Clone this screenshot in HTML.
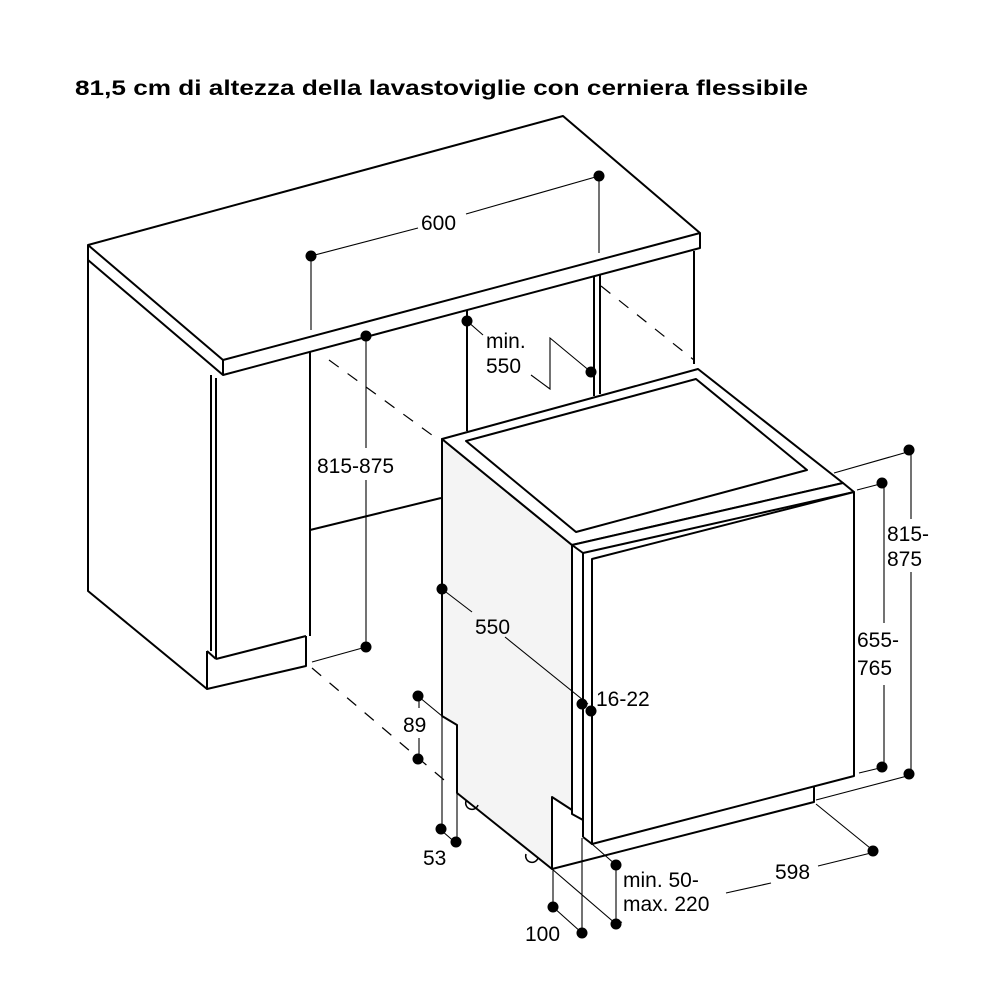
<!DOCTYPE html>
<html><head><meta charset="utf-8"><style>
html,body{margin:0;padding:0;background:#fff;}
svg{display:block;}
text{font-family:"Liberation Sans",Arial,sans-serif;fill:#000;}
</style></head><body>
<svg width="1000" height="1000" viewBox="0 0 1000 1000" xmlns="http://www.w3.org/2000/svg">
<rect width="1000" height="1000" fill="#fff"/>
<text x="75" y="95" font-size="21" font-weight="bold" textLength="733" lengthAdjust="spacingAndGlyphs">81,5 cm di altezza della lavastoviglie con cerniera flessibile</text>

<g fill="none" stroke="#000" stroke-width="2" stroke-linejoin="round">
<polygon points="88,245 563,116 700,233 223,360" fill="#fff"/>
<polyline points="88,245 88,260 223,375 700,248 700,233"/>
<line x1="223" y1="360" x2="223" y2="375"/>
<polyline points="88,260 88,591 207,689"/>
<line x1="211" y1="375" x2="211" y2="651"/>
<line x1="216" y1="378" x2="216" y2="659"/>
<polyline points="207,651 207,689 306,666 306,636"/>
<line x1="216" y1="659" x2="306" y2="636"/>
<line x1="207" y1="651" x2="216" y2="659"/>
<line x1="310" y1="352" x2="310" y2="636"/>
<line x1="310" y1="530" x2="441" y2="498"/>
<line x1="467" y1="310" x2="467" y2="431"/>
<line x1="594" y1="276" x2="594" y2="396"/>
<line x1="600" y1="275" x2="600" y2="394"/>
<line x1="694" y1="251" x2="694" y2="364"/>
</g>

<g fill="none" stroke="#000" stroke-width="2" stroke-linejoin="round">
<polygon points="442,439 442,716 457,725 457,793 552,869 552,797 572,810 572,545" fill="#f4f4f4"/>
<polygon points="442,439 698,369 843,483 572,545" fill="#fff"/>
<polygon points="466,441 696,379 807,470 576,532"/>
<polygon points="572,545 843,483 854,492 583,553" fill="#fff"/>
<line x1="583" y1="553" x2="583" y2="837"/>
<polyline points="572,810 572,814 583,820"/>
<polygon points="592,559 854,492 854,776 592,844" fill="#fff"/>
<polyline points="583,837 592,844"/>
<polyline points="552,869 814,802 814,787"/>
</g>
<g fill="none" stroke="#000" stroke-width="1.5">
<path d="M466,801 a6,6 0 0 0 12,4"/>
<path d="M526,854 a6,6 0 0 0 12,4"/>
</g>

<g stroke="#000" stroke-width="1.2" stroke-dasharray="12,11" fill="none">
<line x1="329" y1="360" x2="436" y2="438"/>
<line x1="601" y1="286" x2="694" y2="360"/>
<line x1="312" y1="668" x2="450" y2="785"/>
</g>

<g stroke="#000" stroke-width="1.1" fill="none">
<line x1="311" y1="256" x2="418" y2="228"/>
<line x1="466" y1="214" x2="599" y2="176"/>
<line x1="311" y1="256" x2="311" y2="330"/>
<line x1="599" y1="176" x2="599" y2="253"/>
<line x1="366" y1="336" x2="366" y2="448"/>
<line x1="366" y1="480" x2="366" y2="647"/>
<line x1="366" y1="647" x2="312" y2="662"/>
<polyline points="467,321 483,335"/>
<polyline points="531,375 550,389 550,338 591,372"/>
<line x1="442" y1="589" x2="472" y2="612"/>
<line x1="505" y1="637" x2="588" y2="704"/>
<line x1="834" y1="473" x2="911" y2="451"/>
<line x1="911" y1="451" x2="911" y2="519"/>
<line x1="911" y1="572" x2="911" y2="775"/>
<line x1="857" y1="490" x2="884" y2="483"/>
<line x1="884" y1="483" x2="884" y2="623"/>
<line x1="884" y1="685" x2="884" y2="767"/>
<line x1="859" y1="773" x2="884" y2="767"/>
<line x1="816" y1="800" x2="911" y2="775"/>
<line x1="816" y1="804" x2="875" y2="852"/>
<line x1="875" y1="852" x2="818" y2="866"/>
<line x1="771" y1="883" x2="726" y2="893"/>
<line x1="616" y1="924" x2="622" y2="922"/>
<line x1="592" y1="844" x2="616" y2="865"/>
<line x1="616" y1="865" x2="616" y2="924"/>
<line x1="552" y1="869" x2="616" y2="924"/>
<line x1="553" y1="869" x2="553" y2="907"/>
<line x1="582" y1="838" x2="582" y2="933"/>
<line x1="553" y1="907" x2="582" y2="933"/>
<line x1="442" y1="716" x2="442" y2="831"/>
<line x1="457" y1="793" x2="457" y2="844"/>
<line x1="442" y1="831" x2="457" y2="844"/>
<line x1="419" y1="697" x2="419" y2="708"/>
<line x1="419" y1="738" x2="419" y2="760"/>
<line x1="419" y1="697" x2="442" y2="716"/>
</g>

<g fill="#000">
<circle cx="311" cy="256" r="5.5"/><circle cx="599" cy="176" r="5.5"/>
<circle cx="366" cy="336" r="5.5"/><circle cx="366" cy="647" r="5.5"/>
<circle cx="467" cy="321" r="5.5"/><circle cx="591" cy="372" r="5.5"/>
<circle cx="442" cy="589" r="5.5"/><circle cx="582" cy="704" r="5.5"/><circle cx="591" cy="711" r="5.5"/>
<circle cx="909" cy="450" r="5.5"/><circle cx="909" cy="774" r="5.5"/>
<circle cx="882" cy="483" r="5.5"/><circle cx="882" cy="767" r="5.5"/>
<circle cx="873" cy="851" r="5.5"/>
<circle cx="616" cy="865" r="5.5"/><circle cx="616" cy="924" r="5.5"/>
<circle cx="553" cy="907" r="5.5"/><circle cx="582" cy="933" r="5.5"/>
<circle cx="441" cy="829" r="5.5"/><circle cx="456" cy="842" r="5.5"/>
<circle cx="418" cy="696" r="5.5"/><circle cx="418" cy="759" r="5.5"/>
</g>

<g font-size="21">
<text x="421" y="230">600</text>
<text x="317" y="473">815-875</text>
<text x="486" y="348">min.</text>
<text x="486" y="373">550</text>
<text x="475" y="634">550</text>
<text x="596" y="706">16-22</text>
<text x="887" y="541">815-</text>
<text x="887" y="566">875</text>
<text x="857" y="647">655-</text>
<text x="857" y="675">765</text>
<text x="403" y="732">89</text>
<text x="423" y="865">53</text>
<text x="525" y="941">100</text>
<text x="623" y="887">min. 50-</text>
<text x="623" y="911">max. 220</text>
<text x="775" y="879">598</text>
</g>
</svg>
</body></html>
